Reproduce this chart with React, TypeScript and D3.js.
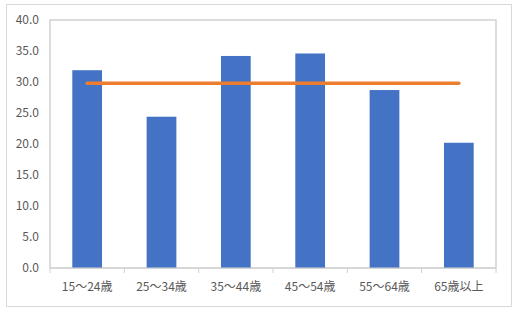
import React from "react";
import * as d3 from "d3";

const categories = ["15～24歳", "25～34歳", "35～44歳", "45～54歳", "55～64歳", "65歳以上"];
const barValues = [31.9, 24.4, 34.2, 34.6, 28.7, 20.2];
const lineValues = [29.8, 29.8, 29.8, 29.8, 29.8, 29.8];
const yTicks = [0, 5, 10, 15, 20, 25, 30, 35, 40];

export default function App() {
  const W = 515, H = 311;
  const left = 50, right = 496, top = 20, bottom = 268;
  const x = d3.scaleBand<string>().domain(categories).range([left, right]).paddingInner(0.6).paddingOuter(0.3);
  const xb = d3.scaleBand<string>().domain(categories).range([left, right]);
  const y = d3.scaleLinear().domain([0, 40]).range([bottom, top]);
  const line = d3.line<number>()
    .x((_, i) => (xb(categories[i]) as number) + xb.bandwidth() / 2)
    .y((d) => y(d));
  const font = "'Noto Sans CJK JP', 'Noto Sans', sans-serif";
  return (
    <svg width={W} height={H} style={{ position: "absolute", left: 0, top: 0, background: "#fff" }}>
      <rect x={6.5} y={4.5} width={505} height={302} fill="#fff" stroke="#d9d9d9" />
      <rect x={left} y={top} width={right - left} height={bottom - top} fill="#fff" stroke="#c6c6c6" strokeWidth={1.2} />
      {categories.map((c, i) => (
        <rect key={c} x={x(c)} y={y(barValues[i])} width={x.bandwidth()} height={bottom - y(barValues[i])} fill="#4472C4" />
      ))}
      <line x1={left} x2={right} y1={bottom} y2={bottom} stroke="#d0d0d0" />
      {categories.map((c, i) => (
        <line key={"t" + i} x1={(xb(c) as number) + (i === 0 ? 0 : 0)} x2={xb(c) as number} y1={bottom} y2={bottom + 5} stroke="#d0d0d0" />
      ))}
      <line x1={right} x2={right} y1={bottom} y2={bottom + 5} stroke="#d0d0d0" />
      <path d={line(lineValues) || ""} fill="none" stroke="#ED7D31" strokeWidth={3.5} strokeLinecap="round" />
      {yTicks.map((t) => (
        <text key={t} x={39} y={y(t)} dy="0.35em" textAnchor="end" fontSize={12} fill="#595959" fontFamily={font}>
          {t.toFixed(1)}
        </text>
      ))}
      {categories.map((c) => (
        <text key={"l" + c} x={(xb(c) as number) + xb.bandwidth() / 2} y={287} dy="0.35em" textAnchor="middle" fontSize={12} fill="#595959" fontFamily={font}>
          {c}
        </text>
      ))}
    </svg>
  );
}
